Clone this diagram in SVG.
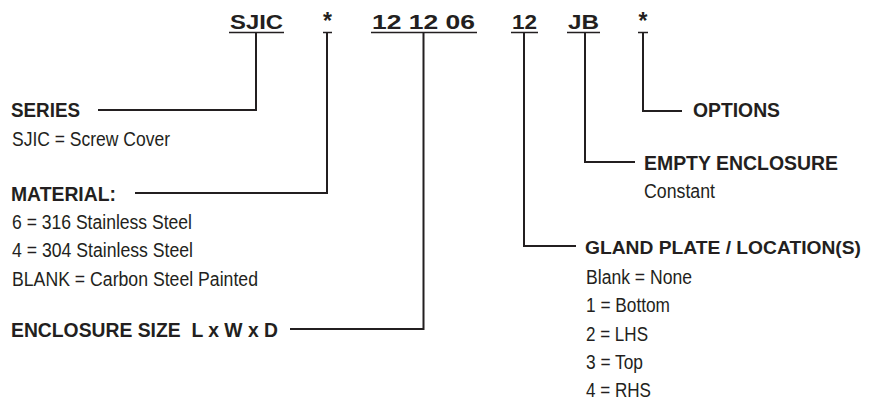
<svg xmlns="http://www.w3.org/2000/svg" width="875" height="400" viewBox="0 0 875 400">
<style>
text{font-family:"Liberation Sans",Arial,Helvetica,sans-serif;fill:#231f20}
.code{font-size:21px;font-weight:bold}
.lbl{font-size:20.5px;font-weight:bold}
.body{font-size:20px}
.ln{fill:none;stroke:#231f20;stroke-width:2}
.ul{fill:none;stroke:#231f20;stroke-width:1.6}
</style>
<rect width="875" height="400" fill="#ffffff"/>
<g id="code">
<text class="code" x="230" y="29" textLength="53" lengthAdjust="spacingAndGlyphs">SJIC</text>
<text class="code" x="327.5" y="29" text-anchor="middle" style="font-size:23px">*</text>
<text class="code" x="372" y="29" textLength="103" lengthAdjust="spacingAndGlyphs">12 12 06</text>
<text class="code" x="512" y="29" textLength="25" lengthAdjust="spacingAndGlyphs">12</text>
<text class="code" x="568" y="29" textLength="31" lengthAdjust="spacingAndGlyphs">JB</text>
<text class="code" x="643" y="29" text-anchor="middle" style="font-size:23px">*</text>
<path class="ul" d="M229,32.5H284 M323,32.5H332 M371,32.5H477 M511,32.5H538 M567,32.5H600 M638,32.5H648"/>
</g>
<g id="connectors">
<path class="ln" d="M256,32V110H98"/>
<path class="ln" d="M327,32V193H135"/>
<path class="ln" d="M423.5,32V329H290"/>
<path class="ln" d="M524,32V246H576"/>
<path class="ln" d="M585,32V162H635"/>
<path class="ln" d="M643,32V111H682"/>
</g>
<g id="series">
<text class="lbl" x="11" y="117" textLength="69" lengthAdjust="spacingAndGlyphs">SERIES</text>
<text class="body" x="12" y="146" textLength="158" lengthAdjust="spacingAndGlyphs">SJIC = Screw Cover</text>
</g>
<g id="material">
<text class="lbl" x="11" y="201" textLength="105" lengthAdjust="spacingAndGlyphs">MATERIAL:</text>
<text class="body" x="12" y="229" textLength="180" lengthAdjust="spacingAndGlyphs">6 = 316 Stainless Steel</text>
<text class="body" x="12" y="257" textLength="181" lengthAdjust="spacingAndGlyphs">4 = 304 Stainless Steel</text>
<text class="body" x="12" y="286" textLength="246" lengthAdjust="spacingAndGlyphs">BLANK = Carbon Steel Painted</text>
</g>
<g id="size">
<text class="lbl" x="11" y="337" textLength="267" lengthAdjust="spacingAndGlyphs" xml:space="preserve">ENCLOSURE SIZE  L x W x D</text>
</g>
<g id="options">
<text class="lbl" x="693" y="117" textLength="87" lengthAdjust="spacingAndGlyphs">OPTIONS</text>
</g>
<g id="empty">
<text class="lbl" x="644" y="170" textLength="194" lengthAdjust="spacingAndGlyphs">EMPTY ENCLOSURE</text>
<text class="body" x="644" y="198" textLength="71" lengthAdjust="spacingAndGlyphs">Constant</text>
</g>
<g id="gland">
<text class="lbl" x="585" y="254" style="font-size:18.5px" textLength="276" lengthAdjust="spacingAndGlyphs">GLAND PLATE / LOCATION(S)</text>
<text class="body" x="586" y="284" textLength="106" lengthAdjust="spacingAndGlyphs">Blank = None</text>
<text class="body" x="586" y="312" textLength="84" lengthAdjust="spacingAndGlyphs">1 = Bottom</text>
<text class="body" x="586" y="341" textLength="62" lengthAdjust="spacingAndGlyphs">2 = LHS</text>
<text class="body" x="586" y="369" textLength="57" lengthAdjust="spacingAndGlyphs">3 = Top</text>
<text class="body" x="586" y="397" textLength="65" lengthAdjust="spacingAndGlyphs">4 = RHS</text>
</g>
</svg>
